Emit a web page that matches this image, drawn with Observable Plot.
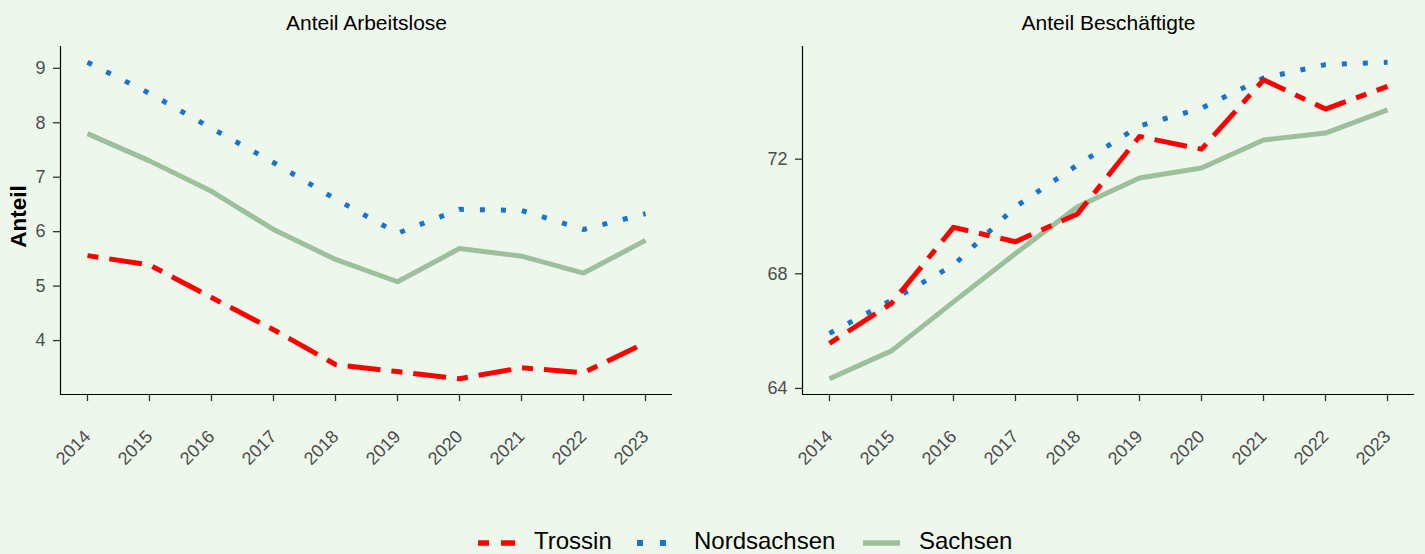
<!DOCTYPE html>
<html>
<head>
<meta charset="utf-8">
<script src="https://cdn.jsdelivr.net/npm/d3@7"></script>
<script src="https://cdn.jsdelivr.net/npm/@observablehq/plot@0.6"></script>
<style>
  html, body { margin: 0; padding: 0; background: #EEF7EC; }
  body { width: 1425px; height: 554px; overflow: hidden; font-family: "Liberation Sans", Arial, sans-serif; }
  #row { display: flex; flex-direction: row; }
  #legend { position: absolute; left: 0; top: 520px; width: 1425px; height: 34px; }
</style>
</head>
<body>
<div id="row"></div>
<svg id="legend" width="1425" height="34"></svg>
<script>
const years = [2014, 2015, 2016, 2017, 2018, 2019, 2020, 2021, 2022, 2023];
const seriesNames = ["Trossin", "Nordsachsen", "Sachsen"];
const panelTitles = ["Anteil Arbeitslose", "Anteil Beschäftigte"];
const yTicksLeft = [4, 5, 6, 7, 8, 9];
const yTicksRight = [64, 68, 72];

// Anteil Arbeitslose
const alTrossin     = [5.56, 5.39, 4.79, 4.20, 3.56, 3.43, 3.30, 3.50, 3.41, 3.96];
const alNordsachsen = [9.11, 8.54, 7.90, 7.27, 6.60, 5.97, 6.41, 6.39, 6.04, 6.33];
const alSachsen     = [7.80, 7.30, 6.74, 6.04, 5.49, 5.08, 5.69, 5.55, 5.24, 5.84];

// Anteil Beschäftigte
const beTrossin     = [65.57, 66.97, 69.62, 69.12, 70.09, 72.79, 72.35, 74.77, 73.75, 74.54];
const beNordsachsen = [65.92, 67.08, 68.30, 70.34, 71.80, 73.16, 73.78, 74.83, 75.30, 75.38];
const beSachsen     = [64.34, 65.31, 67.02, 68.71, 70.34, 71.34, 71.69, 72.67, 72.91, 73.72];

const styles = {
  Trossin:     {stroke: "#FF0000", strokeWidth: 5, strokeDasharray: "11,11,33,11"},
  Nordsachsen: {stroke: "#1874CD", strokeWidth: 5, strokeDasharray: "5,16"},
  Sachsen:     {stroke: "#9CC09C", strokeWidth: 5, strokeDasharray: null}
};

const FONT = "'Liberation Sans', Arial, sans-serif";

function toRows(a, b, c) {
  const rows = [];
  [a, b, c].forEach((vals, i) => {
    vals.forEach((v, j) => rows.push({year: years[j], value: v, series: seriesNames[i]}));
  });
  return rows;
}

function panel({title, rows, yTicks, width, marginLeft, marginRight, yLabel}) {
  const vals = rows.map(d => d.value);
  const lo = d3.min(vals), hi = d3.max(vals), pad = (hi - lo) * 0.05;
  const xdom = [2014 - 0.435, 2023 + 0.435];
  const ydom = [lo - pad, hi + pad];
  const marks = [];
  ["Sachsen", "Nordsachsen", "Trossin"].forEach(s => {
    const st = styles[s];
    marks.push(Plot.line(rows.filter(d => d.series === s), {
      x: "year", y: "value", stroke: st.stroke, strokeWidth: st.strokeWidth,
      strokeDasharray: st.strokeDasharray, strokeLinecap: "butt", strokeLinejoin: "round"
    }));
  });
  marks.push(Plot.ruleX([xdom[0]], {stroke: "#000", strokeWidth: 1.2}));
  marks.push(Plot.ruleY([ydom[0]], {stroke: "#000", strokeWidth: 1.2}));
  marks.push(Plot.axisY({ticks: yTicks, tickFormat: d => String(d), tickSize: 7, tickPadding: 8,
    fontSize: 18, fill: "#4D4D4D", stroke: "#333", strokeWidth: 1.3, label: null}));
  marks.push(Plot.axisX({ticks: years, tickFormat: d => String(d), tickSize: 7, tickPadding: 32,
    tickRotate: -45, fontSize: 18, fill: "#4D4D4D", stroke: "#333", strokeWidth: 1.3, label: null}));
  marks.push(Plot.text([title], {frameAnchor: "top", dy: -23, lineAnchor: "middle", textAnchor: "middle",
    fontSize: 21, fill: "#000"}));
  if (yLabel) {
    marks.push(Plot.text([yLabel], {frameAnchor: "left", dx: -42, dy: -4, rotate: -90,
      textAnchor: "middle", lineAnchor: "middle", fontSize: 22.5, fontWeight: "bold", fill: "#000"}));
  }
  return Plot.plot({
    width, height: 500,
    marginLeft, marginRight, marginTop: 46, marginBottom: 106,
    style: {background: "transparent", fontFamily: FONT, overflow: "visible"},
    x: {type: "linear", domain: xdom},
    y: {type: "linear", domain: ydom},
    marks
  });
}

const row = document.getElementById("row");
row.appendChild(panel({title: panelTitles[0], rows: toRows(alTrossin, alNordsachsen, alSachsen),
  yTicks: yTicksLeft, width: 712, marginLeft: 60, marginRight: 40, yLabel: "Anteil"}));
row.appendChild(panel({title: panelTitles[1], rows: toRows(beTrossin, beNordsachsen, beSachsen),
  yTicks: yTicksRight, width: 713, marginLeft: 90, marginRight: 11, yLabel: null}));

// Legend (svg top at 520)
const lg = d3.select("#legend");
const items = [
  {name: "Trossin", x: 478, w: 37, textX: 534, dash: "11,12,14", sw: 5.5},
  {name: "Nordsachsen", x: 637, w: 29, textX: 694, dash: "6,17,6", sw: 6},
  {name: "Sachsen", x: 863, w: 37, textX: 919, dash: null, sw: 5.5}
];
const keyY = 23;
items.forEach(it => {
  const st = styles[it.name];
  lg.append("line").attr("x1", it.x).attr("x2", it.x + it.w).attr("y1", keyY).attr("y2", keyY)
    .attr("stroke", st.stroke).attr("stroke-width", it.sw)
    .attr("stroke-dasharray", it.dash);
  lg.append("text").attr("x", it.textX).attr("y", 28.5)
    .attr("font-size", 24).attr("fill", "#000").attr("font-family", FONT)
    .text(it.name);
});
</script>
</body>
</html>
